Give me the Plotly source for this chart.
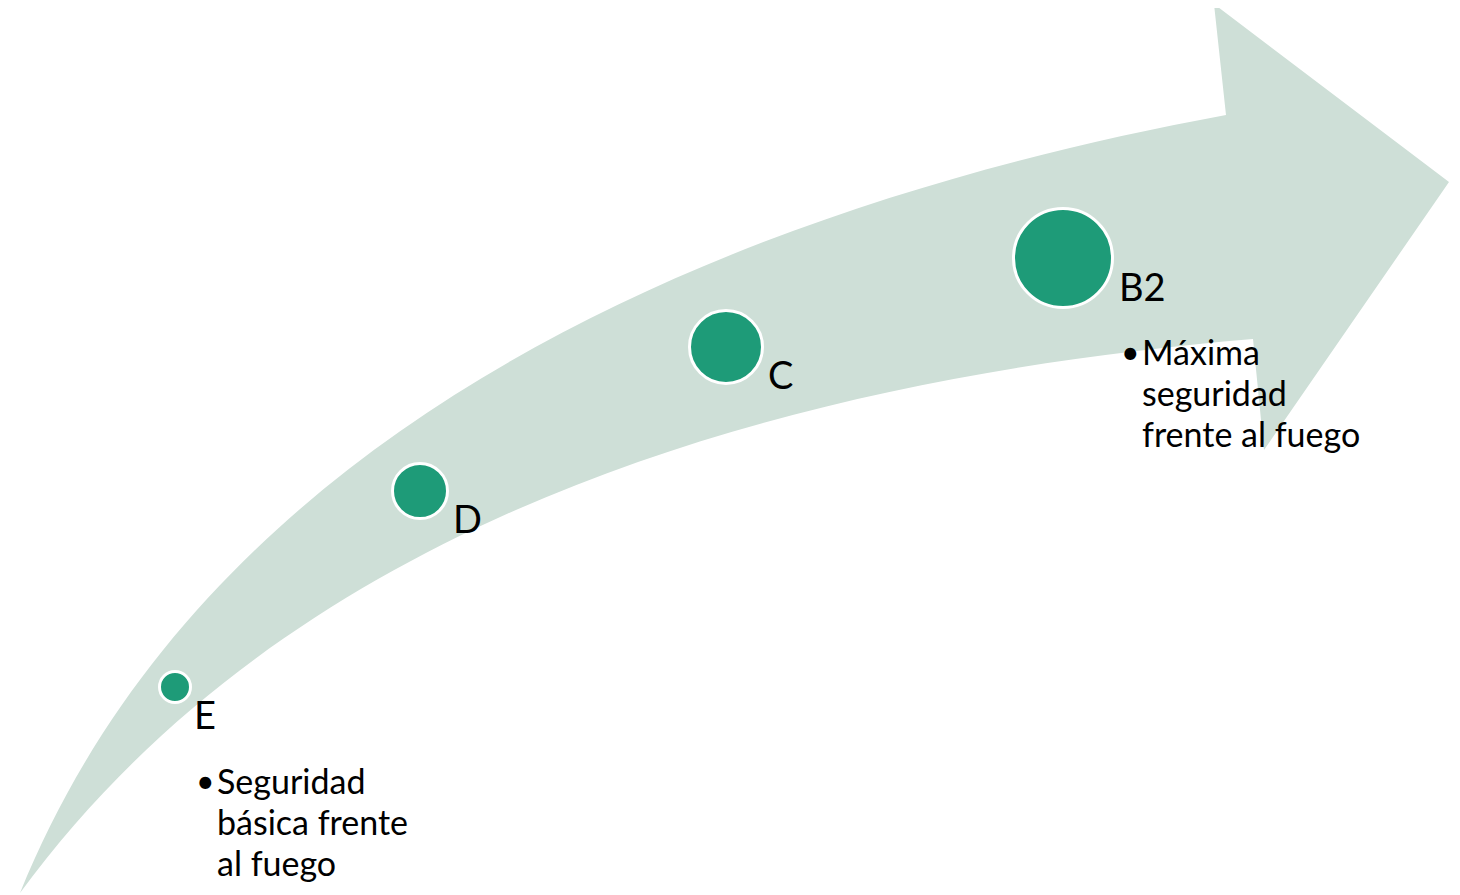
import numpy as np
import plotly.graph_objects as go

# ---- data ----
classes = ["E", "D", "C", "B2"]
class_rank = [1, 2, 3, 4]                      # fire-safety level (higher = safer)
low_note = ["Seguridad", "básica frente", "al fuego"]
high_note = ["Máxima", "seguridad", "frente al fuego"]

# ---- layout geometry (pixels, decorative diagram) ----
W, H = 1460, 895
PAD = 8  # default page body margin
circle_x = [175, 420, 726, 1063]
circle_y = [687, 491, 347, 258]
circle_d = [31, 55, 73, 99]
label_x = [192, 451, 766, 1117]
label_y = [714, 518, 374, 286]

upper_edge = [(20, 893), (73, 780), (120, 707), (187, 623), (263, 540), (380, 445),
              (480, 380), (580, 330), (767, 233), (984, 173), (1226, 115)]
head = [(1214, 4), (1449, 182), (1264, 450), (1253, 339)]
lower_edge = [(20, 893), (113, 780), (160, 740), (253, 657), (360, 593), (467, 533),
              (540, 498), (680, 448), (750, 427), (900, 390), (1114, 353), (1253, 339)]

ARROW = "#CEDFD7"
DOT = "#1E9B78"


def fit_cubic(pts, iters=30):
    P = np.array(pts, dtype=float)
    P0, P3 = P[0], P[-1]
    d = np.r_[0, np.cumsum(np.linalg.norm(np.diff(P, axis=0), axis=1))]
    t = d / d[-1]
    for _ in range(iters):
        b0 = (1 - t) ** 3
        b1 = 3 * (1 - t) ** 2 * t
        b2 = 3 * (1 - t) * t ** 2
        b3 = t ** 3
        A = np.c_[b1, b2]
        R = P - np.outer(b0, P0) - np.outer(b3, P3)
        C, *_ = np.linalg.lstsq(A, R, rcond=None)
        P1, P2 = C[0], C[1]
        ts = np.linspace(0, 1, 2001)
        curve = (np.outer((1 - ts) ** 3, P0) + np.outer(3 * (1 - ts) ** 2 * ts, P1)
                 + np.outer(3 * (1 - ts) * ts ** 2, P2) + np.outer(ts ** 3, P3))
        dist = ((P[:, None, :] - curve[None, :, :]) ** 2).sum(-1)
        t = ts[dist.argmin(1)]
        t[0], t[-1] = 0.0, 1.0
    return P0, P1, P2, P3


def fmt(p):
    return f"{p[0]:.1f},{p[1]:.1f}"


u0, u1, u2, u3 = fit_cubic(upper_edge)
l0, l1, l2, l3 = fit_cubic(lower_edge)
path = f"M {fmt(u0)} C {fmt(u1)} {fmt(u2)} {fmt(u3)}"
for p in head:
    path += f" L {p[0]},{p[1]}"
path += f" C {fmt(l2)} {fmt(l1)} {fmt(l0)} Z"

fig = go.Figure()
fig.add_shape(type="path", path=path, fillcolor=ARROW, line=dict(width=0),
              layer="below", xref="x", yref="y")

fig.add_trace(go.Scatter(
    x=circle_x, y=circle_y, mode="markers",
    marker=dict(size=circle_d, color=DOT, opacity=1, line=dict(color="white", width=3)),
    text=classes, hoverinfo="text", showlegend=False,
))

FONT = "Lato, 'Open Sans', sans-serif"
for c, lx, ly in zip(classes, label_x, label_y):
    fig.add_annotation(x=lx, y=ly, text=c, showarrow=False, xanchor="left", yanchor="middle",
                       font=dict(family=FONT, size=38, color="black"))


def note(lines, x_bullet, x_text, y0, dy):
    fig.add_annotation(x=x_bullet, y=y0, text="•", showarrow=False, xanchor="left",
                       yanchor="middle", font=dict(family=FONT, size=32, color="black"))
    for i, t in enumerate(lines):
        fig.add_annotation(x=x_text, y=y0 + i * dy, text=t, showarrow=False, xanchor="left",
                           yanchor="middle", font=dict(family=FONT, size=34, color="black"))


note(low_note, 194, 215, 780, 41)
note(high_note, 1119, 1140, 351, 41)

fig.update_layout(
    width=W - PAD, height=H - PAD, margin=dict(l=0, r=0, t=0, b=0),
    paper_bgcolor="white", plot_bgcolor="white",
    xaxis=dict(range=[PAD, W], visible=False, fixedrange=True),
    yaxis=dict(range=[H, PAD], visible=False, fixedrange=True),
)

fig.write_html("out.html")
